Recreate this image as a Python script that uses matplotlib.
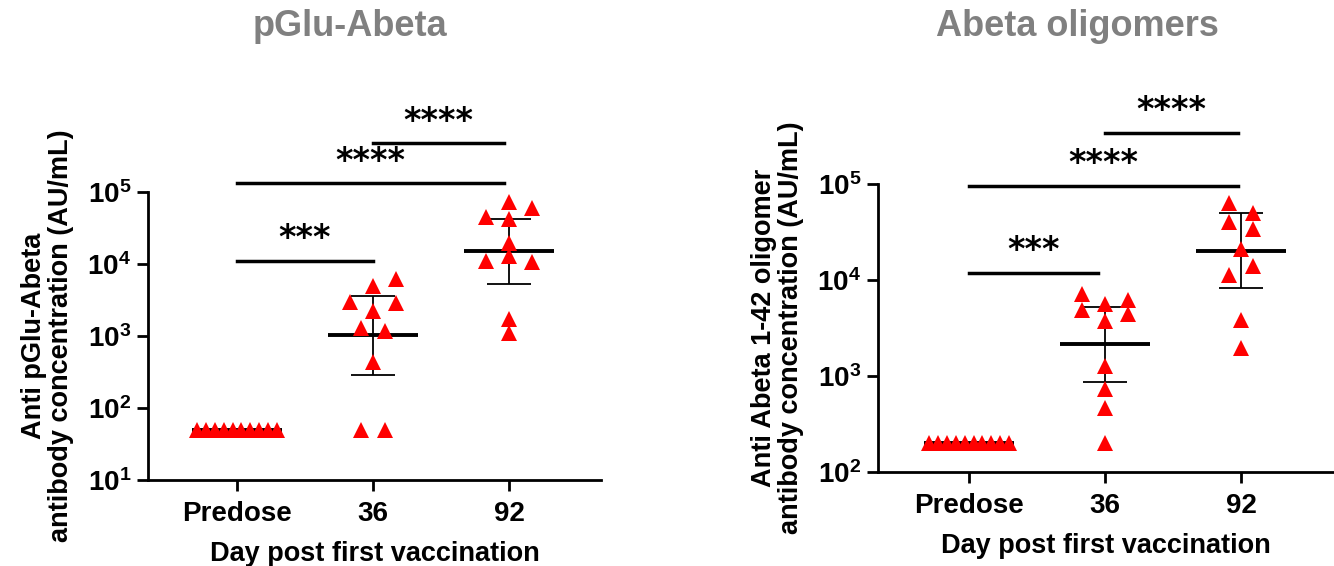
import numpy as np
import matplotlib
matplotlib.use('Agg')
import matplotlib.pyplot as plt

plt.rcParams['font.family'] = 'Liberation Sans'
plt.rcParams['font.weight'] = 'bold'
plt.rcParams['axes.labelweight'] = 'bold'
plt.rcParams['axes.linewidth'] = 2.0

groups = ['Predose', '36', '92']

# pGlu-Abeta panel (AU/mL)
pglu_predose = [50] * 10
pglu_d36 = [4950, 6100, 2950, 2900, 2250, 1280, 1170, 430, 50, 50]
pglu_d92 = [73000, 59000, 44500, 42000, 19800, 11000, 12900, 10800, 1700, 1110]
pglu_mean = [50, 1025, 15000]
pglu_low = [50, 290, 5330]
pglu_high = [50, 3550, 41800]

# Abeta oligomer panel (AU/mL)
olig_predose = [200] * 10
olig_d36 = [7100, 6150, 5680, 4920, 4470, 3740, 1270, 740, 460, 200]
olig_d92 = [63400, 50300, 40200, 34300, 21200, 13900, 11200, 3800, 1960]
olig_mean = [200, 2150, 20200]
olig_low = [200, 860, 8260]
olig_high = [200, 5290, 49900]

# horizontal jitter used in the original scatter (category units)
jit_pre = (np.arange(10) - 4.5) * 0.065
jit_pglu36 = [0, 0.17, -0.17, 0.17, 0, -0.085, 0.085, 0, -0.085, 0.085]
jit_pglu92 = [0, 0.17, -0.17, 0, 0, -0.17, 0, 0.17, 0, 0]
jit_olig36 = [-0.17, 0.17, 0, -0.17, 0.17, 0, 0, 0, 0, 0]
jit_olig92 = [-0.086, 0.086, -0.086, 0.086, 0, 0.086, -0.086, 0, 0]

fig = plt.figure(figsize=(13.34, 5.66), dpi=100)
ax1 = fig.add_axes([148 / 1334, 1 - 480 / 566, 453 / 1334, 288 / 566])
ax2 = fig.add_axes([878 / 1334, 1 - 472 / 566, 455 / 1334, 288 / 566])


def draw_panel(ax, series, jitters, mean, low, high, ylim, xlim):
    for i, (vals, jit) in enumerate(zip(series, jitters)):
        ax.plot(i + np.array(jit), vals, linestyle='none', marker='^',
                markersize=11, color='red', markeredgewidth=0, zorder=5,
                clip_on=False)
    x = np.arange(len(mean))
    mean = np.array(mean)
    yerr = [mean - np.array(low), np.array(high) - mean]
    ax.errorbar(x[1:], mean[1:], yerr=[yerr[0][1:], yerr[1][1:]], fmt='none',
                ecolor='black', elinewidth=1.3, capsize=16, capthick=1.3,
                zorder=2)
    ax.hlines(mean, x - 0.333, x + 0.333, color='black', lw=2.8, zorder=4)
    ax.set_yscale('log')
    ax.set_ylim(*ylim)
    ax.set_xlim(*xlim)
    ax.set_xticks(x)
    ax.set_xticklabels(groups)
    ax.spines['top'].set_visible(False)
    ax.spines['right'].set_visible(False)
    ax.minorticks_off()
    ax.tick_params(axis='both', length=8, width=2, labelsize=20, pad=4)
    ax.tick_params(axis='x', pad=7)
    ax.set_xlabel('Day post first vaccination', fontsize=19.5,
                  fontweight='bold', labelpad=10)


def sig_bar(ax, x0, x1, y, label):
    ax.plot([x0, x1], [y, y], color='black', lw=2.5, clip_on=False,
            transform=ax.get_xaxis_transform())
    ax.text((x0 + x1) / 2, y + 22 / 288, label, ha='center', va='center',
            fontsize=24, family='DejaVu Sans', fontweight='bold',
            transform=ax.get_xaxis_transform())


draw_panel(ax1, [pglu_predose, pglu_d36, pglu_d92],
           [jit_pre, jit_pglu36, jit_pglu92],
           pglu_mean, pglu_low, pglu_high, (10, 1e5), (-0.654, 2.676))
draw_panel(ax2, [olig_predose, olig_d36, olig_d92],
           [jit_pre, jit_olig36, jit_olig92],
           olig_mean, olig_low, olig_high, (100, 1e5), (-0.67, 2.675))

ax1.set_ylabel('Anti pGlu-Abeta\nantibody concentration (AU/mL)',
               fontsize=19.5, fontweight='bold', linespacing=1.05, labelpad=10)
ax2.set_ylabel('Anti Abeta 1-42 oligomer\nantibody concentration (AU/mL)',
               fontsize=19.5, fontweight='bold', linespacing=1.05, labelpad=10)

# significance bars (heights in axes fraction)
sig_bar(ax1, 0, 1, (480 - 260.7) / 288, '***')
sig_bar(ax1, 0, 1.96, (480 - 183.3) / 288, '****')
sig_bar(ax1, 1, 1.96, (480 - 143.3) / 288, '****')
sig_bar(ax2, 0, 0.95, (472 - 272.5) / 288, '***')
sig_bar(ax2, 0, 1.98, (472 - 186) / 288, '****')
sig_bar(ax2, 1, 1.98, (472 - 132.7) / 288, '****')

fig.text(350 / 1334, 1 - 26 / 566, 'pGlu-Abeta', ha='center', va='center',
         fontsize=26, color='#808080')
fig.text(1077 / 1334, 1 - 26 / 566, 'Abeta oligomers', ha='center',
         va='center', fontsize=26, color='#808080')

fig.savefig('out.png', dpi=100)
